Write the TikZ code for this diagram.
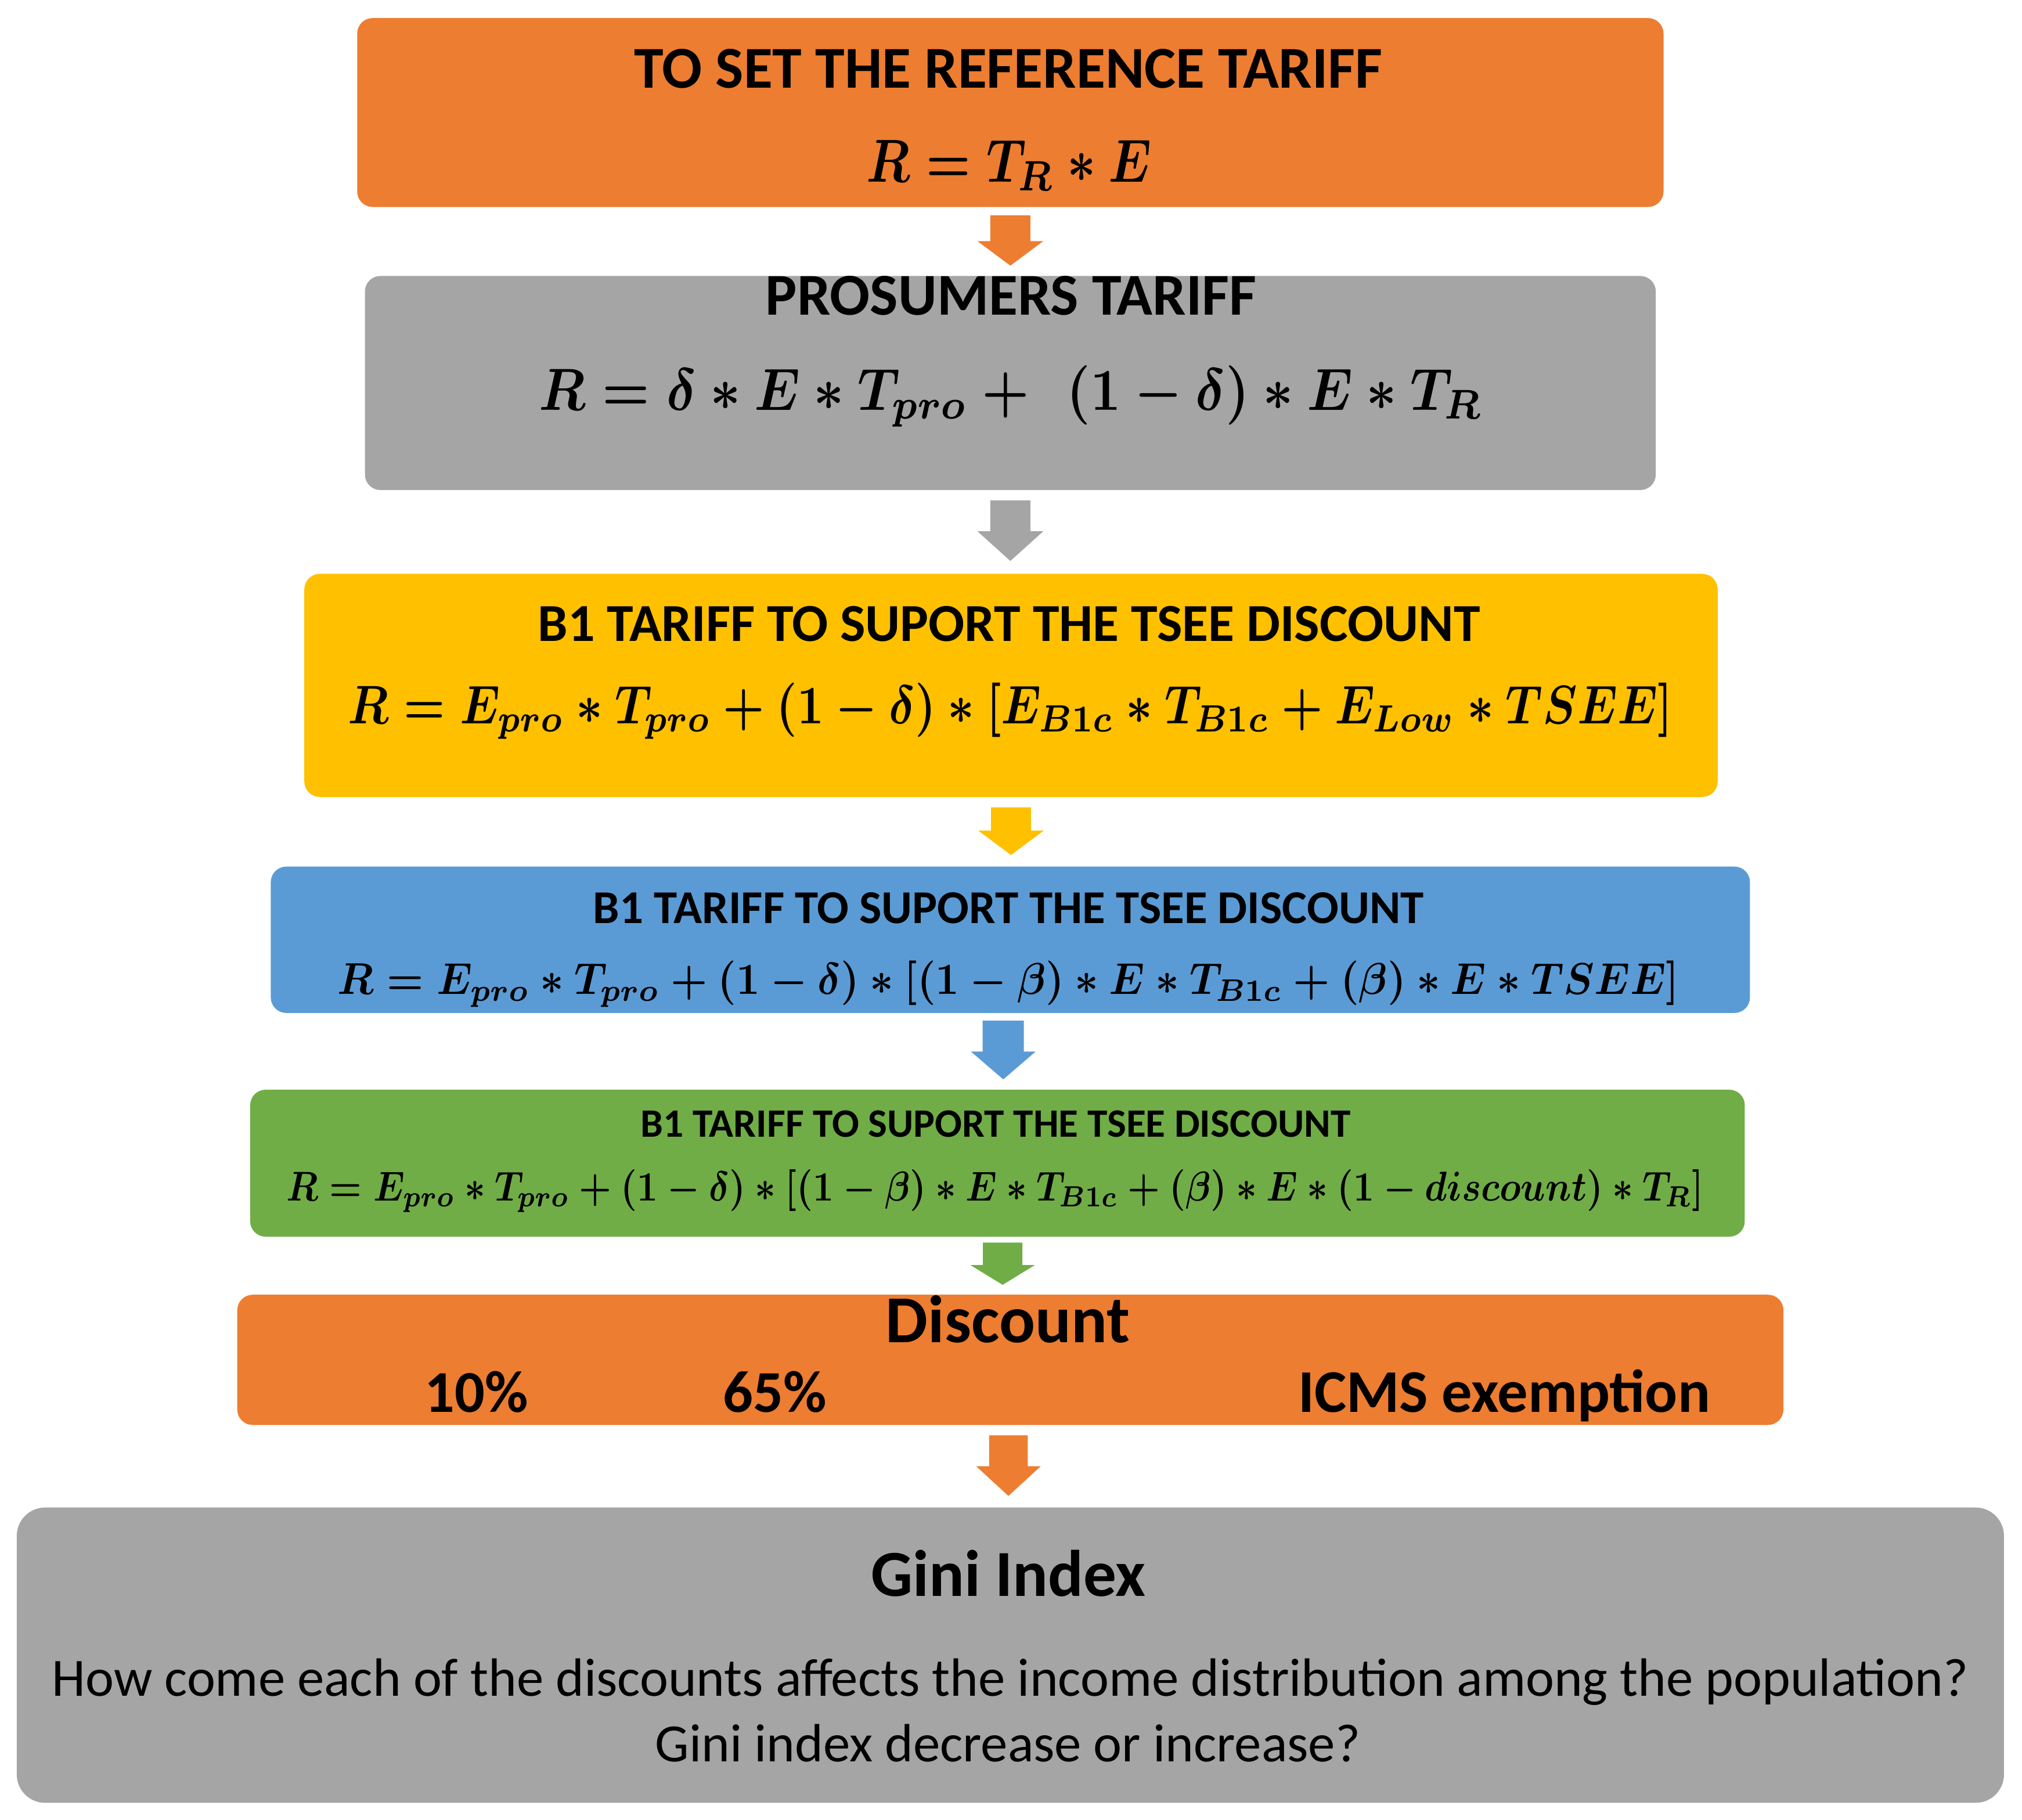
\documentclass[tikz,border=0pt]{standalone}
\usepackage{fontspec}
\setmainfont{Carlito}
\usepackage{amsmath}
\usepackage{graphicx}
\usetikzlibrary{calc}
\definecolor{cOrange}{HTML}{ED7D31}
\definecolor{cGray}{HTML}{A5A5A5}
\definecolor{cYellow}{HTML}{FFC000}
\definecolor{cBlue}{HTML}{5B9BD5}
\definecolor{cGreen}{HTML}{70AD47}
% #1 colour, #2 top point, #3 tip point, #4 head length, #5 half shaft, #6 half head
\newcommand\myblockarrow[6]{%
  \fill[#1] let \p1=#2, \p2=#3 in
    (\x1-#5pt,\y1) -- (\x1+#5pt,\y1) -- (\x1+#5pt,\y2+#4pt) -- (\x1+#6pt,\y2+#4pt)
    -- (\x1,\y2) -- (\x1-#6pt,\y2+#4pt) -- (\x1-#5pt,\y2+#4pt) -- cycle;}
% #1 width, #2 vertical stretch, #3 formula
\newcommand\myformula[3]{\scalebox{1}[#2]{\resizebox{#1}{!}{\boldmath$#3$}}}
\begin{document}
\begin{tikzpicture}[x=1pt,y=-1pt,
  box/.style={rounded corners=12pt, inner sep=0pt, outer sep=0pt},
  ttl/.style={anchor=base, inner sep=0pt, outer sep=0pt, font=\bfseries},
  txt/.style={anchor=base, inner sep=0pt, outer sep=0pt},
  fml/.style={anchor=base, inner sep=0pt, outer sep=0pt}]
\useasboundingbox (0,0) rectangle (1568,1411);

% boxes
\node[box, fill=cOrange, minimum width=1013pt, minimum height=146.5pt] (b1) at (783.5,87.25) {};
\node[box, fill=cGray,   minimum width=1001pt, minimum height=166pt]   (b2) at (783.5,297) {};
\node[box, fill=cYellow, minimum width=1096pt, minimum height=173pt]   (b3) at (784,531.5) {};
\node[box, fill=cBlue,   minimum width=1147pt, minimum height=113.5pt] (b4) at (783.5,728.75) {};
\node[box, fill=cGreen,  minimum width=1159pt, minimum height=114pt]   (b5) at (773.5,902) {};
\node[box, fill=cOrange, minimum width=1199pt, minimum height=101pt]   (b6) at (783.5,1054.5) {};
\node[box, rounded corners=22pt, fill=cGray, minimum width=1541pt, minimum height=229pt] (b7) at (783.5,1283.5) {};

% texts
\node[ttl] (t1) at (782,68) {\fontsize{46}{50}\selectfont TO SET THE REFERENCE TARIFF};
\node[fml] (f1) at (782.5,141) {\myformula{221pt}{1.22}{R=T_R\ast E}};

\node[ttl] (t2) at (784,244) {\fontsize{46}{50}\selectfont PROSUMERS TARIFF};
\node[fml] (f2) at (784,318) {\myformula{732pt}{1.12}{R=\delta\ast E\ast T_{pro}+\ \ (1-\delta)\ast E\ast T_R}};

\node[ttl] (t3) at (782.5,497) {\fontsize{41.4}{45}\selectfont B1 TARIFF TO SUPORT THE TSEE DISCOUNT};
\node[fml] (f3) at (783.5,561) {\myformula{1027pt}{1.17}{R=E_{pro}\ast T_{pro}+(1-\delta)\ast[E_{B1c}\ast T_{B1c}+E_{Low}\ast TSEE]}};

\node[ttl] (t4) at (782,716) {\fontsize{36.5}{40}\selectfont B1 TARIFF TO SUPORT THE TSEE DISCOUNT};
\node[fml] (f4) at (782,771) {\myformula{1040pt}{1.08}{R=E_{pro}\ast T_{pro}+(1-\delta)\ast[(1-\beta)\ast E\ast T_{B1c}+(\beta)\ast E\ast TSEE]}};

\node[ttl] (t5) at (772,881.5) {\fontsize{31.2}{34}\selectfont B1 TARIFF TO SUPORT THE TSEE DISCOUNT};
\node[fml] (f5) at (771.5,931) {\myformula{1099pt}{1.15}{R=E_{pro}\ast T_{pro}+(1-\delta)\ast[(1-\beta)\ast E\ast T_{B1c}+(\beta)\ast E\ast(1-discount)\ast T_R]}};

\node[ttl] (disc) at (781.5,1041) {\fontsize{52}{56}\selectfont Discount};
\node[ttl] (p10) at (369.5,1095) {\fontsize{46}{50}\selectfont 10\%};
\node[ttl] (p65) at (601,1095) {\fontsize{46}{50}\selectfont 65\%};
\node[ttl] (icms) at (1166.5,1095) {\fontsize{47}{51}\selectfont ICMS exemption};

\node[ttl] (gini) at (782,1237.6) {\fontsize{51}{55}\selectfont Gini Index};
\node[txt] (q1) at (783.5,1315) {\fontsize{41.8}{46}\selectfont How come each of the discounts affects the income distribution among the population?};
\node[txt] (q2) at (781.5,1366) {\fontsize{41.8}{46}\selectfont Gini index decrease or increase?};

% block arrows between boxes
\myblockarrow{cOrange}{([yshift=-6.5pt]b1.south)}{([yshift=8pt]b2.north)}{19}{15.5}{25.5}
\myblockarrow{cGray}{([yshift=-8pt]b2.south)}{([yshift=10pt]b3.north)}{23}{15.5}{25.5}
\myblockarrow{cYellow}{([yshift=-8pt]b3.south)}{([yshift=9pt]b4.north)}{19}{15.5}{25.5}
\myblockarrow{cBlue}{([xshift=-5.5pt,yshift=-6pt]b4.south)}{([xshift=-5.5pt,yshift=8pt]b4.south|-b5.north)}{21.5}{16}{25}
\myblockarrow{cGreen}{([xshift=4pt,yshift=-4.5pt]b5.south)}{([xshift=4pt,yshift=7.7pt]b5.south|-b6.north)}{15.3}{15.3}{25}
\myblockarrow{cOrange}{([xshift=-1.5pt,yshift=-8pt]b6.south)}{([xshift=-1.5pt,yshift=9pt]b6.south|-b7.north)}{23}{15}{25}
\end{tikzpicture}
\end{document}
